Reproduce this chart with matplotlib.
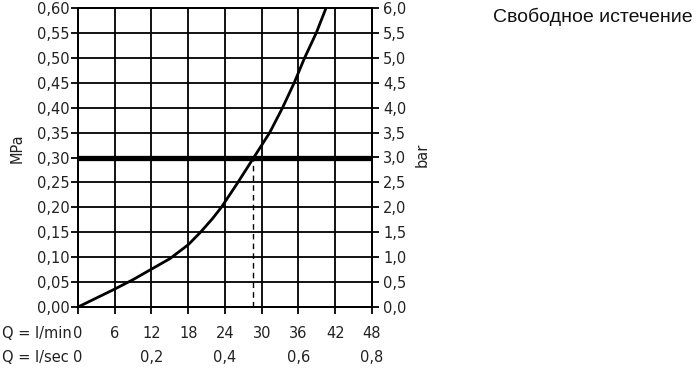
import matplotlib
matplotlib.use("Agg")
import matplotlib.pyplot as plt

# Data
flow_lmin = [0, 3, 6, 9, 12, 15, 18, 20, 22, 23.4, 26, 28.7, 31.3, 33.4, 35.3, 37.0, 38.9, 40.5]
pressure_mpa = [0, 0.018, 0.036, 0.055, 0.076, 0.097, 0.125, 0.15, 0.178, 0.20, 0.248, 0.30, 0.35, 0.40, 0.45, 0.50, 0.55, 0.60]

x_ticks_lmin = [0, 6, 12, 18, 24, 30, 36, 42, 48]
x_ticks_lsec = [0, 0.2, 0.4, 0.6, 0.8]
y_ticks_mpa = [0.00, 0.05, 0.10, 0.15, 0.20, 0.25, 0.30, 0.35, 0.40, 0.45, 0.50, 0.55, 0.60]
ref_pressure = 0.30
ref_flow = 28.6
title = "Свободное истечение"

plt.rcParams['font.family'] = ['DejaVu Sans']
fig = plt.figure(figsize=(7, 3.7), dpi=100)
ax = fig.add_axes([78/700, 1-307/370, (372-78)/700, (307-8)/370])

lw_grid = 1.3
txt_col = '#222222'
ax.set_xlim(0, 48)
ax.set_ylim(0, 0.60)
ax.set_xticks(x_ticks_lmin)
ax.set_yticks(y_ticks_mpa)
ax.grid(True, color='black', linewidth=lw_grid)
for s in ax.spines.values():
    s.set_linewidth(lw_grid)
    s.set_color('black')

fs = 10.5
ax.set_yticklabels([f"{v:.2f}".replace('.', ',') for v in y_ticks_mpa], fontsize=fs, color=txt_col)
ax.set_xticklabels([])
ax.tick_params(axis='both', direction='out', length=5, width=lw_grid, color='black', pad=1)

ax2 = ax.twinx()
ax2.set_ylim(0, 6.0)
ax2.set_yticks([v*10 for v in y_ticks_mpa])
ax2.set_yticklabels([f"{v*10:.1f}".replace('.', ',') for v in y_ticks_mpa], fontsize=fs, color=txt_col)
ax2.tick_params(axis='y', direction='out', length=5, width=lw_grid, color='black', pad=3)
for s in ax2.spines.values():
    s.set_linewidth(lw_grid)

ax.plot(flow_lmin, pressure_mpa, color='black', linewidth=2.0, solid_joinstyle='round', zorder=5)
ax.axhline(ref_pressure, color='black', linewidth=3.8, zorder=6)
ax.plot([ref_flow, ref_flow], [0, ref_pressure], color='black', linewidth=1.0,
        linestyle=(0, (4, 3)), zorder=4)

# x tick label rows
row1_y = 1 - 333/370
row2_y = 1 - 357/370
trans1 = ax.get_xaxis_transform()
for v in x_ticks_lmin:
    ax.text(v, 0, str(v), ha='center', va='center', fontsize=fs, color=txt_col,
            transform=matplotlib.transforms.blended_transform_factory(ax.transData, fig.transFigure),
            clip_on=False)
for v in x_ticks_lsec:
    ax.text(v*60, 0, f"{v:g}".replace('.', ','), ha='center', va='center', fontsize=fs,
            color=txt_col, clip_on=False,
            transform=matplotlib.transforms.blended_transform_factory(ax.transData, fig.transFigure))
# reposition rows
for t in ax.texts[:len(x_ticks_lmin)]:
    t.set_y(row1_y)
for t in ax.texts[len(x_ticks_lmin):]:
    t.set_y(row2_y)

fig.text(2/700, row1_y, "Q = l/min", ha='left', va='center', fontsize=fs, color=txt_col)
fig.text(2/700, row2_y, "Q = l/sec", ha='left', va='center', fontsize=fs, color=txt_col)

fig.text(17/700, 1-148/370, "MPa", rotation=90, ha='center', va='center', fontsize=fs, color=txt_col)
fig.text(422/700, 1-155/370, "bar", rotation=90, ha='center', va='center', fontsize=fs, color=txt_col)

fig.text(693/700, 1-17/370, title, ha='right', va='center', fontsize=14,
         family=['Liberation Sans'], color='#111111')

fig.savefig("out.png", dpi=100, facecolor='white')
